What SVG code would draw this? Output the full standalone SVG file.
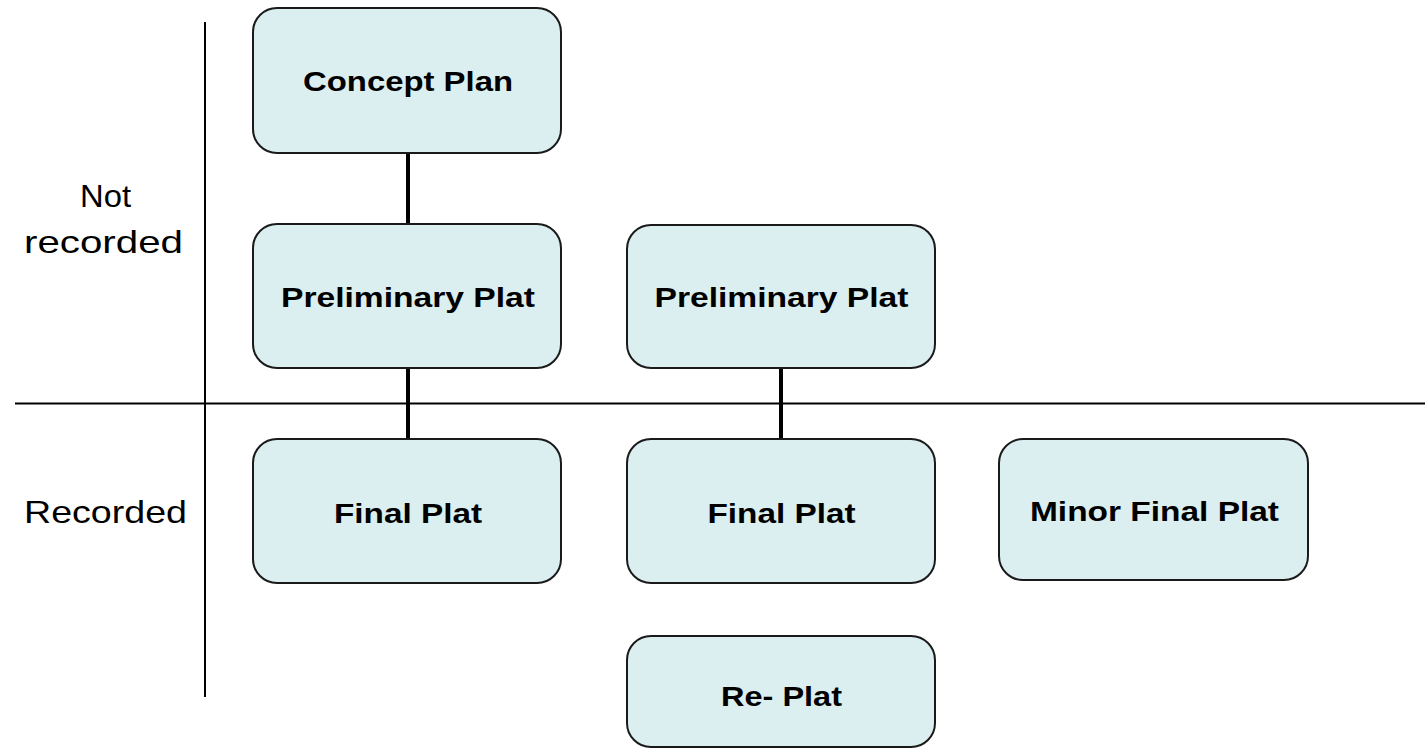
<svg xmlns="http://www.w3.org/2000/svg" width="1425" height="749" viewBox="0 0 1425 749">
<style>
.box{fill:#dbeef0;stroke:#1a1a1a;stroke-width:2}
.lbl{font-family:"Liberation Sans",Arial,sans-serif;font-weight:bold;font-size:28px;fill:#000;text-anchor:middle}
.side{font-family:"Liberation Sans",Arial,sans-serif;font-size:32px;fill:#000;text-anchor:middle}
.conn{stroke:#000;stroke-width:4;fill:none}
.axis{stroke:#000;stroke-width:2;fill:none}
</style>
<rect width="1425" height="749" fill="#fff"/>
<g id="axes">
<line class="axis" x1="205" y1="22" x2="205" y2="697"/>
<line class="axis" x1="15" y1="403.500" x2="1425" y2="403.500"/>
<text class="side" x="105.500" y="207" textLength="51" lengthAdjust="spacingAndGlyphs">Not</text>
<text class="side" x="103.500" y="253" textLength="159" lengthAdjust="spacingAndGlyphs">recorded</text>
<text class="side" x="105.500" y="523" textLength="163" lengthAdjust="spacingAndGlyphs">Recorded</text>
</g>
<g id="connectors">
<line class="conn" x1="408" y1="153" x2="408" y2="224"/>
<line class="conn" x1="408" y1="368" x2="408" y2="439"/>
<line class="conn" x1="781" y1="368" x2="781" y2="439"/>
</g>
<g id="concept"><rect class="box" x="253" y="8" width="308" height="145" rx="24"/><text class="lbl" x="408" y="91" textLength="210" lengthAdjust="spacingAndGlyphs">Concept Plan</text></g>
<g id="prelim1"><rect class="box" x="253" y="224" width="308" height="144" rx="24"/><text class="lbl" x="408" y="307" textLength="254" lengthAdjust="spacingAndGlyphs">Preliminary  Plat</text></g>
<g id="prelim2"><rect class="box" x="627" y="225" width="308" height="143" rx="24"/><text class="lbl" x="781.500" y="307" textLength="254" lengthAdjust="spacingAndGlyphs">Preliminary  Plat</text></g>
<g id="final1"><rect class="box" x="253" y="439" width="308" height="144" rx="24"/><text class="lbl" x="408" y="523" textLength="148" lengthAdjust="spacingAndGlyphs">Final Plat</text></g>
<g id="final2"><rect class="box" x="627" y="439" width="308" height="144" rx="24"/><text class="lbl" x="781.500" y="523" textLength="148" lengthAdjust="spacingAndGlyphs">Final Plat</text></g>
<g id="minor"><rect class="box" x="999" y="439" width="309" height="141" rx="24"/><text class="lbl" x="1154.500" y="521" textLength="249" lengthAdjust="spacingAndGlyphs">Minor Final Plat</text></g>
<g id="replat"><rect class="box" x="627" y="636" width="308" height="111" rx="24"/><text class="lbl" x="781.500" y="706" textLength="121" lengthAdjust="spacingAndGlyphs">Re- Plat</text></g>
</svg>
